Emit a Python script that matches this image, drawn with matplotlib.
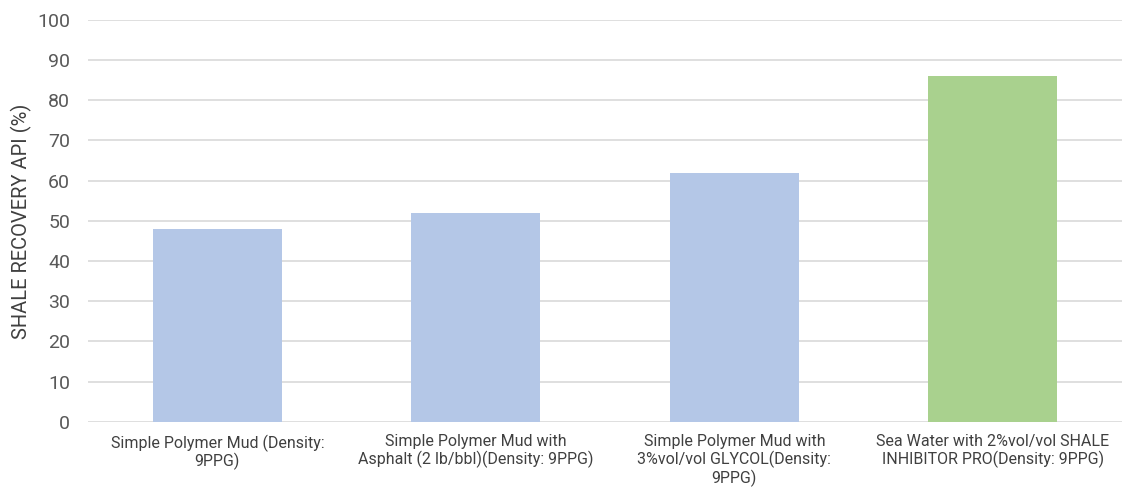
import numpy as np
import matplotlib.pyplot as plt

plt.rcParams['font.family'] = ['Roboto', 'DejaVu Sans']

categorias = ['Simple Polymer Mud (Density:\n9PPG)',
              'Simple Polymer Mud with\nAsphalt (2 lb/bbl)(Density: 9PPG)',
              'Simple Polymer Mud with\n3%vol/vol GLYCOL(Density:\n9PPG)',
              'Sea Water with 2%vol/vol SHALE\nINHIBITOR PRO(Density: 9PPG)']
recuperacion = [48, 52, 62, 86]
colores = ['#B4C7E7', '#B4C7E7', '#B4C7E7', '#A9D18E']

fig, ax = plt.subplots(figsize=(11.3, 4.94), dpi=100)
fig.subplots_adjust(left=0.078, right=0.993, top=0.96, bottom=0.146)

x = np.arange(len(categorias))
ax.bar(x, recuperacion, width=0.5, color=colores, zorder=3)

ax.set_xlim(-0.5, len(categorias) - 0.5)
ax.set_ylim(0, 100)
ax.set_yticks(range(0, 101, 10))
ax.set_xticks(x)
ax.set_xticklabels(categorias, fontsize=11.5, color='#404040', linespacing=1.1)
ax.tick_params(axis='y', labelsize=14, colors='#595959', length=0, pad=13)
ax.tick_params(axis='x', length=0, pad=9)
ax.set_ylabel('SHALE RECOVERY API (%)', fontsize=14.5, color='#404040', labelpad=4)

ax.grid(axis='y', color='#D9D9D9', linewidth=1.2, zorder=0)
for s in ax.spines.values():
    s.set_visible(False)

plt.savefig('out.png')
